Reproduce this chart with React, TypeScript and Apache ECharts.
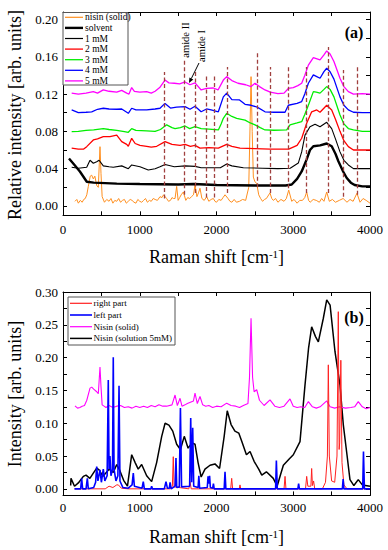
import React, { useEffect, useRef } from "react";
import * as echarts from "echarts";

// ---------- axis ticks / labels ----------
const X_TICKS = [0, 500, 1000, 1500, 2000, 2500, 3000, 3500, 4000];
const X_LABELS = [0, 1000, 2000, 3000, 4000];
const YA_TICKS = [0, 0.02, 0.04, 0.06, 0.08, 0.1, 0.12, 0.14, 0.16, 0.18, 0.2];
const YA_LABELS = [0, 0.04, 0.08, 0.12, 0.16, 0.2];
const YB_TICKS = [0, 0.025, 0.05, 0.075, 0.1, 0.125, 0.15, 0.175, 0.2, 0.225, 0.25, 0.275, 0.3];
const YB_LABELS = [0, 0.05, 0.1, 0.15, 0.2, 0.25, 0.3];

// ---------- panel (a) ----------
const namesA = ["nisin (solid)", "solvent", "1 mM", "2 mM", "3 mM", "4 mM", "5 mM"];

const nisinSolidA = [
  [156, 0.005], [180, 0.007], [200, 0.003], [225, 0.006], [250, 0.004], [270, 0.007], [290, 0.008], [310, 0.012],
  [330, 0.021], [355, 0.032], [374, 0.033], [395, 0.029], [415, 0.032], [439, 0.022], [460, 0.02], [482, 0.0636],
  [495, 0.035], [510, 0.01], [540, 0.004], [570, 0.007], [600, 0.005], [625, 0.008], [650, 0.003], [675, 0.006],
  [700, 0.005], [725, 0.008], [750, 0.004], [775, 0.006], [800, 0.007], [825, 0.003], [850, 0.005], [875, 0.007],
  [900, 0.006], [925, 0.004], [950, 0.003], [975, 0.007], [1000, 0.005], [1025, 0.004], [1050, 0.006],
  [1075, 0.008], [1100, 0.004], [1125, 0.006], [1150, 0.005], [1175, 0.008], [1200, 0.007], [1230, 0.006],
  [1264, 0.01], [1290, 0.009], [1310, 0.012], [1350, 0.008], [1375, 0.005], [1400, 0.006], [1420, 0.009],
  [1440, 0.008], [1460, 0.008], [1481, 0.021], [1500, 0.006], [1520, 0.009], [1540, 0.012], [1568, 0.015],
  [1600, 0.006], [1625, 0.009], [1650, 0.008], [1675, 0.01], [1700, 0.012], [1720, 0.0225], [1745, 0.01],
  [1765, 0.014], [1785, 0.019], [1810, 0.008], [1840, 0.006], [1872, 0.01], [1900, 0.005], [1930, 0.007],
  [1959, 0.008], [1980, 0.005], [2000, 0.004], [2030, 0.007], [2060, 0.006], [2085, 0.009], [2111, 0.012],
  [2150, 0.008], [2175, 0.005], [2200, 0.004], [2230, 0.007], [2260, 0.004], [2300, 0.005], [2340, 0.007],
  [2380, 0.006], [2420, 0.02], [2437, 0.085], [2450, 0.1387], [2465, 0.08], [2480, 0.031], [2500, 0.026],
  [2524, 0.0243], [2550, 0.012], [2575, 0.008], [2600, 0.005], [2625, 0.007], [2650, 0.008], [2697, 0.014],
  [2720, 0.008], [2740, 0.006], [2770, 0.008], [2800, 0.004], [2840, 0.007], [2880, 0.005], [2910, 0.008],
  [2941, 0.017], [2980, 0.005], [3010, 0.007], [3050, 0.003], [3085, 0.006], [3120, 0.006], [3150, 0.009],
  [3175, 0.015], [3200, 0.006], [3220, 0.004], [3260, 0.007], [3300, 0.006], [3340, 0.004], [3370, 0.008],
  [3400, 0.005], [3436, 0.015], [3470, 0.005], [3510, 0.007], [3550, 0.004], [3600, 0.006], [3650, 0.008],
  [3700, 0.004], [3740, 0.007], [3780, 0.005], [3830, 0.0136], [3870, 0.004], [3910, 0.008], [3950, 0.006],
  [4000, 0.003],
];

const solventA = [
  [78, 0.051], [150, 0.044], [220, 0.037], [310, 0.026], [400, 0.025], [700, 0.024], [1000, 0.0235], [1500, 0.023],
  [1700, 0.0235], [2000, 0.0225], [2500, 0.022], [2900, 0.022], [2980, 0.023], [3050, 0.029], [3110, 0.037],
  [3175, 0.05], [3218, 0.06], [3262, 0.064], [3350, 0.065], [3436, 0.067], [3501, 0.064], [3550, 0.056],
  [3588, 0.048], [3650, 0.037], [3697, 0.03], [3750, 0.025], [3800, 0.0225], [3900, 0.021], [4000, 0.021],
];

const mM1 = [
  [113, 0.0415], [200, 0.0404], [309, 0.0415], [352, 0.049], [395, 0.0458], [439, 0.0475], [470, 0.049],
  [525, 0.043], [600, 0.042], [655, 0.0415], [765, 0.043], [851, 0.04], [895, 0.044], [1003, 0.042],
  [1111, 0.0386], [1200, 0.04], [1264, 0.042], [1330, 0.0445], [1450, 0.042], [1590, 0.043], [1720, 0.0425],
  [1800, 0.041], [1950, 0.041], [2050, 0.041], [2133, 0.045], [2200, 0.043], [2350, 0.041], [2600, 0.0405],
  [2800, 0.04], [2960, 0.0405], [3066, 0.046], [3110, 0.058], [3153, 0.076], [3218, 0.085], [3284, 0.0876],
  [3349, 0.085], [3436, 0.0897], [3501, 0.083], [3550, 0.072], [3609, 0.058], [3660, 0.049], [3718, 0.044],
  [3784, 0.04], [3900, 0.04], [4000, 0.04],
];

const mM2 = [
  [113, 0.062], [200, 0.061], [270, 0.061], [309, 0.0636], [395, 0.0708], [450, 0.072], [525, 0.0743],
  [612, 0.0743], [700, 0.076], [765, 0.069], [830, 0.066], [851, 0.064], [895, 0.0726], [940, 0.067],
  [1003, 0.065], [1090, 0.064], [1150, 0.063], [1221, 0.064], [1330, 0.069], [1420, 0.066], [1525, 0.065],
  [1590, 0.066], [1660, 0.064], [1720, 0.065], [1785, 0.062], [1900, 0.0625], [2024, 0.062], [2133, 0.066],
  [2200, 0.064], [2306, 0.062], [2500, 0.0615], [2700, 0.061], [2941, 0.061], [3050, 0.065], [3110, 0.0726],
  [3175, 0.0887], [3240, 0.101], [3306, 0.103], [3349, 0.1005], [3436, 0.108], [3501, 0.103], [3550, 0.093],
  [3609, 0.08], [3660, 0.07], [3718, 0.0636], [3784, 0.06], [3900, 0.06], [4000, 0.06],
];

const mM3 = [
  [113, 0.0797], [200, 0.08], [300, 0.081], [400, 0.0815], [525, 0.083], [600, 0.082], [700, 0.081],
  [800, 0.0797], [851, 0.079], [895, 0.083], [950, 0.081], [1090, 0.0805], [1200, 0.08], [1270, 0.082],
  [1351, 0.087], [1420, 0.084], [1460, 0.083], [1530, 0.084], [1590, 0.0858], [1650, 0.083], [1720, 0.085],
  [1800, 0.083], [1900, 0.0825], [2024, 0.0815], [2060, 0.088], [2089, 0.094], [2133, 0.0994], [2200, 0.096],
  [2263, 0.094], [2372, 0.092], [2440, 0.089], [2502, 0.087], [2570, 0.084], [2632, 0.0815], [2750, 0.0812],
  [2915, 0.0815], [2958, 0.087], [3050, 0.089], [3110, 0.0904], [3150, 0.098], [3197, 0.108], [3262, 0.1226],
  [3300, 0.122], [3349, 0.121], [3400, 0.125], [3436, 0.128], [3480, 0.125], [3530, 0.117], [3609, 0.0976],
  [3660, 0.088], [3718, 0.083], [3784, 0.0815], [3900, 0.08], [4000, 0.08],
];

const mM4 = [
  [113, 0.103], [200, 0.1], [300, 0.1005], [374, 0.101], [450, 0.1037], [525, 0.1048], [600, 0.104],
  [700, 0.1037], [765, 0.104], [851, 0.0994], [895, 0.1048], [950, 0.103], [1090, 0.103], [1200, 0.104],
  [1264, 0.1048], [1329, 0.11], [1400, 0.105], [1480, 0.106], [1590, 0.1065], [1655, 0.1037], [1720, 0.107],
  [1800, 0.101], [1870, 0.104], [1930, 0.103], [2024, 0.101], [2089, 0.117], [2133, 0.121], [2200, 0.114],
  [2300, 0.1137], [2372, 0.109], [2450, 0.108], [2530, 0.106], [2632, 0.101], [2750, 0.1005], [2893, 0.1005],
  [2936, 0.108], [3050, 0.11], [3110, 0.112], [3150, 0.12], [3197, 0.1316], [3262, 0.1405], [3300, 0.139],
  [3349, 0.137], [3400, 0.144], [3436, 0.1477], [3480, 0.144], [3530, 0.136], [3609, 0.117], [3660, 0.108],
  [3718, 0.103], [3784, 0.1005], [3900, 0.1], [4000, 0.1],
];

const mM5 = [
  [113, 0.121], [200, 0.12], [300, 0.121], [395, 0.1226], [450, 0.121], [525, 0.1245], [600, 0.123],
  [700, 0.122], [765, 0.124], [830, 0.121], [860, 0.12], [895, 0.127], [930, 0.123], [1000, 0.122],
  [1090, 0.1226], [1150, 0.121], [1200, 0.123], [1260, 0.127], [1329, 0.135], [1380, 0.132], [1450, 0.1316],
  [1520, 0.131], [1590, 0.133], [1655, 0.13], [1720, 0.132], [1800, 0.1244], [1870, 0.126], [1960, 0.1265],
  [2020, 0.1244], [2089, 0.135], [2133, 0.1387], [2200, 0.1345], [2280, 0.1316], [2380, 0.13], [2450, 0.128],
  [2502, 0.1316], [2560, 0.128], [2632, 0.1244], [2700, 0.122], [2800, 0.1205], [2880, 0.121], [2936, 0.126],
  [3000, 0.127], [3060, 0.129], [3110, 0.1316], [3150, 0.14], [3197, 0.151], [3262, 0.159], [3300, 0.158],
  [3349, 0.1566], [3400, 0.162], [3436, 0.1662], [3480, 0.163], [3530, 0.155], [3609, 0.137], [3660, 0.128],
  [3718, 0.1226], [3784, 0.12], [3900, 0.1205], [4000, 0.12],
];

// dashed marker lines (x, bottom, top)
const dashX = [1316, 1580, 1720, 1872, 1967, 2141, 2528, 2697, 2941, 3175, 3457, 3652, 3834];
const dashBottom = [0.008, 0.012, 0.014, 0.009, 0.009, 0.014, 0.02, 0.014, 0.019, 0.014, 0.014, 0.01, 0.012];
const dashTop = [0.1437, 0.1566, 0.1458, 0.1405, 0.1405, 0.149, 0.165, 0.149, 0.151, 0.149, 0.1705, 0.1458, 0.149];

// ---------- panel (b) ----------
const namesB = ["right part", "left part", "Nisin (solid)", "Nisin (solution 5mM)"];

const rightPart = [
  [150, 0], [550, 0], [600, 0.004], [650, 0.002], [700, 0.006], [721, 0.006], [760, 0.001], [850, 0], [1400, 0],
  [1425, 0.004], [1437, 0.049], [1447, 0.003], [1640, 0], [1655, 0.011], [1670, 0], [2185, 0], [2198, 0.016],
  [2210, 0], [2296, 0], [2306, 0.006], [2316, 0], [2880, 0], [2893, 0.019], [2905, 0], [3160, 0], [3175, 0.019],
  [3190, 0.004], [3230, 0.004], [3240, 0.031], [3250, 0.005], [3265, 0.012], [3280, 0], [3380, 0], [3420, 0.01],
  [3445, 0.05], [3457, 0.189], [3470, 0.05], [3500, 0.012], [3540, 0.01], [3570, 0.05], [3587, 0.27],
  [3598, 0.06], [3605, 0.07], [3620, 0.196], [3635, 0.04], [3660, 0.006], [3700, 0], [4000, 0],
];

const leftPart = [
  [150, 0], [230, 0], [243, 0.016], [256, 0], [300, 0], [317, 0.016], [330, 0], [400, 0.002], [425, 0.01],
  [439, 0.034], [455, 0.012], [482, 0.029], [500, 0.01], [525, 0.03], [545, 0.012], [575, 0.02], [590, 0.166],
  [600, 0.03], [612, 0.05], [625, 0.02], [645, 0.03], [655, 0.2005], [665, 0.03], [690, 0.012], [715, 0.02],
  [730, 0.157], [742, 0.012], [780, 0.002], [850, 0.001], [900, 0.006], [916, 0.024], [930, 0.004], [1030, 0.001],
  [1046, 0.011], [1060, 0], [1145, 0], [1155, 0.004], [1165, 0], [1320, 0], [1342, 0.011], [1360, 0.001],
  [1385, 0.001], [1395, 0.01], [1410, 0], [1460, 0.004], [1472, 0.047], [1482, 0.002], [1515, 0.003],
  [1530, 0.123], [1545, 0.003], [1650, 0.004], [1664, 0.108], [1676, 0.01], [1690, 0.093], [1703, 0.004],
  [1760, 0.002], [1770, 0.02], [1780, 0.001], [1880, 0.002], [1890, 0.019], [1900, 0.008], [1910, 0.02],
  [1920, 0.002], [1950, 0.001], [1960, 0.008], [1970, 0], [2100, 0], [2111, 0.026], [2122, 0], [2770, 0],
  [2780, 0.043], [2792, 0], [3060, 0], [3070, 0.008], [3080, 0], [3640, 0], [3650, 0.015], [3660, 0], [3905, 0],
  [3915, 0.057], [3927, 0], [4000, 0],
];

const nisinSolidB = [
  [156, 0.1265], [190, 0.123], [220, 0.124], [250, 0.126], [280, 0.127], [310, 0.135], [352, 0.1535], [374, 0.155],
  [400, 0.152], [439, 0.148], [460, 0.145], [482, 0.1855], [495, 0.156], [510, 0.128], [535, 0.126], [560, 0.124],
  [600, 0.127], [650, 0.124], [700, 0.126], [750, 0.127], [800, 0.124], [850, 0.125], [900, 0.123], [950, 0.126],
  [1000, 0.124], [1050, 0.126], [1100, 0.124], [1150, 0.127], [1200, 0.125], [1250, 0.128], [1300, 0.126],
  [1350, 0.126], [1420, 0.128], [1460, 0.143], [1490, 0.127], [1525, 0.138], [1550, 0.126], [1590, 0.128],
  [1620, 0.13], [1700, 0.134], [1720, 0.146], [1750, 0.13], [1785, 0.1407], [1820, 0.128], [1860, 0.126],
  [1900, 0.127], [1950, 0.124], [2000, 0.126], [2060, 0.125], [2133, 0.1306], [2190, 0.127], [2250, 0.126],
  [2300, 0.124], [2350, 0.127], [2410, 0.13], [2430, 0.17], [2450, 0.26], [2470, 0.17], [2490, 0.148],
  [2524, 0.151], [2560, 0.135], [2620, 0.127], [2697, 0.1357], [2760, 0.126], [2820, 0.124], [2880, 0.126],
  [2958, 0.137], [3000, 0.126], [3050, 0.124], [3100, 0.125], [3150, 0.124], [3197, 0.133], [3250, 0.125],
  [3300, 0.123], [3350, 0.125], [3436, 0.134], [3480, 0.125], [3540, 0.123], [3600, 0.125], [3680, 0.123],
  [3750, 0.124], [3800, 0.125], [3847, 0.133], [3900, 0.125], [3950, 0.122], [4000, 0.124],
];

const nisinSolution = [
  [100, 0.005], [104, 0.016], [150, 0.004], [200, 0.009], [265, 0.019], [300, 0.021], [350, 0.016], [395, 0.024],
  [439, 0.0315], [470, 0.029], [520, 0.019], [600, 0.03], [655, 0.025], [700, 0.037], [740, 0.028], [790, 0.013],
  [840, 0.004], [895, 0.052], [940, 0.04], [980, 0.03], [1025, 0.037], [1090, 0.02], [1155, 0.011], [1220, 0.04],
  [1286, 0.08], [1330, 0.1], [1380, 0.097], [1430, 0.088], [1481, 0.068], [1530, 0.06], [1580, 0.08],
  [1630, 0.062], [1680, 0.07], [1720, 0.068], [1760, 0.04], [1800, 0.018], [1850, 0.03], [1916, 0.036],
  [1980, 0.038], [2040, 0.031], [2100, 0.08], [2140, 0.119], [2190, 0.098], [2240, 0.088], [2290, 0.085],
  [2330, 0.072], [2390, 0.052], [2437, 0.057], [2490, 0.042], [2550, 0.03], [2590, 0.021], [2650, 0.026],
  [2740, 0.016], [2790, 0.004], [2830, 0.02], [2871, 0.036], [2950, 0.046], [3001, 0.052], [3088, 0.072],
  [3153, 0.158], [3200, 0.215], [3240, 0.247], [3290, 0.232], [3327, 0.224], [3392, 0.26], [3436, 0.288],
  [3480, 0.28], [3544, 0.209], [3609, 0.158], [3652, 0.098], [3700, 0.052], [3739, 0.014], [3790, 0.005],
  [3847, 0.014], [3900, 0.006], [4000, 0.004],
];

// ---------- styles ----------
const FONT = "Liberation Serif";
const FONT_CSS = '"Liberation Serif", "Times New Roman", serif';
const ORANGE = "#FF8F1F";
const DASH = "#A0403F";
const colorsA = [ORANGE, "#000000", "#000000", "#FF0000", "#00EE00", "#0000FF", "#FF00FF"];
const widthsA = [1, 2.4, 1.1, 1.3, 1.3, 1.3, 1.3];
const colorsB = ["#FF2020", "#0000FF", "#FF00FF", "#000000"];
const widthsB = [1, 1.6, 1.1, 1.5];

function xAxes(grid: number, margin: number) {
  const base: any = {
    type: "value", gridIndex: grid, min: 0, max: 4000,
    splitLine: { show: false },
    axisLine: { show: true, onZero: false, lineStyle: { color: "#000", width: 1 } },
    axisTick: { show: true, inside: true, length: 4, customValues: X_TICKS, lineStyle: { color: "#000" } },
  };
  return [
    { ...base, position: "bottom",
      axisLabel: { show: true, customValues: X_LABELS, margin, fontSize: 13, fontFamily: FONT_CSS, color: "#000",
        formatter: (v: number) => String(Math.round(v)) } },
    { ...base, position: "top", axisLabel: { show: false } },
  ];
}

function yAxes(grid: number, min: number, max: number, ticks: number[], labels: number[]) {
  const base: any = {
    type: "value", gridIndex: grid, min, max,
    splitLine: { show: false },
    axisLine: { show: true, onZero: false, lineStyle: { color: "#000", width: 1 } },
    axisTick: { show: true, inside: true, length: 4, customValues: ticks, lineStyle: { color: "#000" } },
  };
  return [
    { ...base, position: "left",
      axisLabel: { show: true, customValues: labels, margin: 5, fontSize: 13, fontFamily: FONT_CSS, color: "#000",
        formatter: (v: number) => Number(v).toFixed(2) } },
    { ...base, position: "right", axisLabel: { show: false } },
  ];
}

function legendGraphic(names: string[], colors: string[], widths: number[], box: any, y0: number, step: number,
  lx0: number, lx1: number, tx: number, fs: number) {
  const els: any[] = [
    { type: "rect", shape: { x: box.x, y: box.y, width: box.w, height: box.h },
      style: { fill: "#fff", stroke: "#555", lineWidth: 1 }, z: 50 },
  ];
  names.forEach((n, i) => {
    const y = y0 + i * step;
    els.push({ type: "line", shape: { x1: lx0, y1: y, x2: lx1, y2: y },
      style: { stroke: colors[i], lineWidth: Math.max(widths[i], 1.2) }, z: 51 });
    els.push({ type: "text", x: tx, y, z: 51,
      style: { text: n, font: `${fs}px "${FONT}"`, fill: "#000", align: "left", verticalAlign: "middle" } });
  });
  return els;
}

function xTitle(y: number) {
  return {
    type: "text", x: 216.5, y, z: 60,
    style: {
      text: "{n|Raman shift [cm}{s|-1}{n|]}",
      align: "center", verticalAlign: "middle", fill: "#000",
      rich: {
        n: { fontSize: 18, fontFamily: FONT, fill: "#000", verticalAlign: "bottom" },
        s: { fontSize: 11, fontFamily: FONT, fill: "#000", verticalAlign: "top" },
      },
    },
  };
}

function vText(text: string, x: number, y: number, fs: number) {
  return {
    type: "text", x, y, rotation: Math.PI / 2, z: 60,
    style: { text, font: `${fs}px "${FONT}"`, fill: "#000", align: "center", verticalAlign: "middle" },
  };
}

export default function App() {
  const ref = useRef<HTMLDivElement>(null);

  useEffect(() => {
    document.body.style.margin = "0";
    const chart = echarts.init(ref.current!, null, { renderer: "svg" });

    const seriesA = [nisinSolidA, solventA, mM1, mM2, mM3, mM4, mM5].map((d, i) => ({
      type: "line", name: namesA[i], xAxisIndex: 0, yAxisIndex: 0, data: d,
      showSymbol: false, symbol: "none", lineStyle: { color: colorsA[i], width: widthsA[i] },
      itemStyle: { color: colorsA[i] }, z: 2 + i,
    }));
    (seriesA[seriesA.length - 1] as any).markLine = {
      silent: true, symbol: ["none", "none"], label: { show: false }, z: 20,
      lineStyle: { color: DASH, type: [4, 2.5], width: 1.3 },
      emphasis: { disabled: true },
      data: dashX.map((x, i) => [{ coord: [x, dashBottom[i]] }, { coord: [x, dashTop[i]] }]),
    };

    const dataB = [rightPart, leftPart, nisinSolidB, nisinSolution];
    const orderB = [3, 2, 0, 1];
    const seriesB = orderB.map((i, k) => ({
      type: "line", name: namesB[i], xAxisIndex: 2, yAxisIndex: 2, data: dataB[i],
      showSymbol: false, symbol: "none", lineStyle: { color: colorsB[i], width: widthsB[i] },
      itemStyle: { color: colorsB[i] }, z: 2 + k,
    }));

    const option: any = {
      animation: false,
      backgroundColor: "#fff",
      textStyle: { fontFamily: FONT_CSS },
      grid: [
        { left: 63, top: 12, width: 307, height: 203.3 },
        { left: 63, top: 292, width: 307, height: 203.4 },
      ],
      xAxis: [...xAxes(0, 8), ...xAxes(1, 6)],
      yAxis: [...yAxes(0, -0.01, 0.208, YA_TICKS, YA_LABELS), ...yAxes(1, -0.01, 0.3, YB_TICKS, YB_LABELS)],
      series: [...seriesA, ...seriesB],
      graphic: [
        ...legendGraphic(namesA, colorsA, widthsA, { x: 63, y: 12.5, w: 65, h: 72.5 }, 17.3, 10.6, 65, 83, 85, 9.5),
        ...legendGraphic(namesB, colorsB, widthsB, { x: 68, y: 297, w: 107, h: 48 }, 303.3, 11.7, 70, 92, 93.5, 9),
        xTitle(257),
        xTitle(537),
        vText("Relative intensity [arb. units]", 15, 115, 18),
        vText("Intensity [arb. units]", 15, 394, 18),
        vText("amide II", 185, 40, 10.5),
        vText("amide I", 201.7, 46, 10.5),
        { type: "line", shape: { x1: 199, y1: 63, x2: 191.3, y2: 78.6 }, style: { stroke: "#000", lineWidth: 1 }, z: 60 },
        { type: "polygon", shape: { points: [[189, 83], [193.3, 79.6], [189.4, 77.6]] }, style: { fill: "#000" }, z: 60 },
        { type: "text", x: 354, y: 32, z: 60,
          style: { text: "(a)", font: `bold 16px "${FONT}"`, fill: "#000", align: "center", verticalAlign: "middle" } },
        { type: "text", x: 354, y: 317, z: 60,
          style: { text: "(b)", font: `bold 16px "${FONT}"`, fill: "#000", align: "center", verticalAlign: "middle" } },
      ],
    };

    chart.setOption(option);
    return () => chart.dispose();
  }, []);

  return <div ref={ref} style={{ width: 388, height: 550 }} />;
}
